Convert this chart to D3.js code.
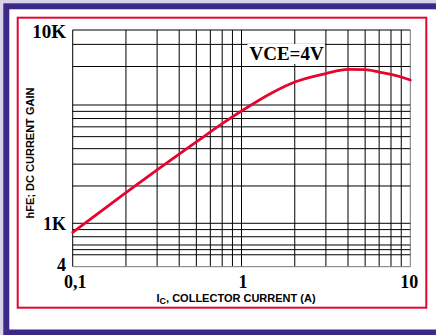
<!DOCTYPE html>
<html>
<head>
<meta charset="utf-8">
<script src="https://cdn.jsdelivr.net/npm/d3@7/dist/d3.min.js"></script>
<style>
  html, body { margin: 0; padding: 0; background: #d9d3ea; }
  svg { display: block; }
</style>
</head>
<body>
<script>
// Collector current (A) and DC current gain hFE at VCE = 4 V
const currentA = [0.1, 0.2, 0.3, 0.5, 0.7, 1, 1.5, 2, 3, 4, 5, 6, 7, 8, 10];
const hfe      = [760, 1770, 2700, 4530, 6360, 8050, 9160, 9295, 9407, 9462, 9459, 9427, 9397, 9361, 9322];

// Grid lines of the log paper (each decade is drawn 1..9, the 10 line shares the 9 line)
const xGrid = [0.1, 0.2, 0.3, 0.4, 0.5, 0.6, 0.7, 0.8, 1, 2, 3, 4, 5, 6, 7, 8, 10];
const yGrid = [400, 500, 550, 600, 700, 800, 1000, 2000, 3000, 4000, 5000, 6000, 7000, 8000, 9000, 9500, 9800, 10000];

// Tick labels
const xTickValues = [0.1, 1, 10];
const xTickLabels = ["0,1", "1", "10"];
const yTickValues = [10000, 1000, 400];
const yTickLabels = ["10K", "1K", "4"];

const curveLabel = "VCE=4V";
const xTitleMain = "I";
const xTitleSub = "C";
const xTitleRest = ", COLLECTOR CURRENT (A)";
const yTitle = "hFE; DC CURRENT GAIN";

const W = 436, H = 335;
const plot = { left: 72.7, right: 410.3, top: 30, bottom: 266.7 };
const pw = plot.right - plot.left, ph = plot.bottom - plot.top;

// Piecewise log scales reproducing the compressed decades of the paper
const xMid = plot.left + pw * 0.5;
const x = d3.scaleLog()
  .domain([0.1, 0.9, 1, 9, 10])
  .range([plot.left, xMid, xMid, plot.right, plot.right]);

const y1K = plot.top + ph * 0.8166;
const y9K = plot.top + ph * 0.3169;
const y = d3.scaleLog()
  .domain([400, 900, 1000, 9000, 10000])
  .range([plot.bottom, y1K, y1K, y9K, plot.top]);

const svg = d3.select("body").append("svg")
  .attr("width", W).attr("height", H);

// Frame: lavender margin, purple band, white card, red border
svg.append("rect").attr("width", W).attr("height", H).attr("fill", "#d9d3ea");
svg.append("rect").attr("x", 3.3).attr("y", 3.3).attr("width", W + 20).attr("height", H + 20).attr("fill", "#3c2a88");
svg.append("rect").attr("x", 9.3).attr("y", 9.3).attr("width", W + 20).attr("height", 329.5 - 9.3).attr("fill", "#ffffff");
svg.append("rect").attr("x", 17.7).attr("y", 17.7).attr("width", 426.3 - 17.7).attr("height", 307.7 - 17.7)
  .attr("fill", "#ffffff").attr("stroke", "#e4062f").attr("stroke-width", 2);

// Grid
const grid = svg.append("g");
grid.selectAll("line.v").data(xGrid).join("line")
  .attr("class", "v")
  .attr("x1", d => x(d)).attr("x2", d => x(d))
  .attr("y1", plot.top).attr("y2", plot.bottom)
  .attr("stroke", (d, i) => i === xGrid.length - 1 ? "#777" : "#000")
  .attr("stroke-width", 1);
grid.selectAll("line.h").data(yGrid).join("line")
  .attr("class", "h")
  .attr("y1", d => y(d)).attr("y2", d => y(d))
  .attr("x1", plot.left).attr("x2", plot.right)
  .attr("stroke", (d, i) => i === 0 ? "#777" : "#000")
  .attr("stroke-width", 1);

// Curve label with a white patch behind it
const lblG = svg.append("g");
const lbl = lblG.append("text")
  .attr("x", 249.5).attr("y", 60)
  .attr("font-family", "'Liberation Serif', 'Times New Roman', serif")
  .attr("font-weight", "bold").attr("font-size", 19)
  .attr("fill", "#000")
  .text(curveLabel);
const bb = lbl.node().getBBox();
lblG.insert("rect", "text")
  .attr("x", bb.x - 2).attr("y", bb.y + 1)
  .attr("width", bb.width + 3).attr("height", bb.height - 1)
  .attr("fill", "#fff");

// hFE curve
const line = d3.line()
  .x((d, i) => x(currentA[i]))
  .y(d => y(d))
  .curve(d3.curveMonotoneX);
svg.append("path")
  .datum(hfe)
  .attr("d", line)
  .attr("fill", "none")
  .attr("stroke", "#e4062f")
  .attr("stroke-width", 2.8)
  .attr("stroke-linecap", "round");

// Tick labels
const serif = "'Liberation Serif', 'Times New Roman', serif";
const xOffsets = [2.6, 1.5, -1];
svg.selectAll("text.xt").data(xTickValues).join("text")
  .attr("class", "xt")
  .attr("x", (d, i) => x(d) + xOffsets[i])
  .attr("y", 288)
  .attr("text-anchor", "middle")
  .attr("font-family", serif).attr("font-weight", "bold").attr("font-size", 18)
  .text((d, i) => xTickLabels[i]);

const yOffsets = [8, 7, 4];
const ySizes = [19, 18, 18];
svg.selectAll("text.yt").data(yTickValues).join("text")
  .attr("class", "yt")
  .attr("x", 66)
  .attr("y", (d, i) => y(d) + yOffsets[i])
  .attr("text-anchor", "end")
  .attr("font-family", serif).attr("font-weight", "bold")
  .attr("font-size", (d, i) => ySizes[i])
  .text((d, i) => yTickLabels[i]);

// Axis titles
const sans = "'Liberation Sans', Arial, Helvetica, sans-serif";
const xt = svg.append("text")
  .attr("x", 156.5).attr("y", 301.7)
  .attr("font-family", sans).attr("font-weight", "bold").attr("font-size", 11)
  .attr("fill", "#000");
xt.append("tspan").text(xTitleMain);
xt.append("tspan").attr("dy", 2.5).attr("font-size", 9).text(xTitleSub);
xt.append("tspan").attr("dy", -2.5).text(xTitleRest);

svg.append("text")
  .attr("transform", "translate(33.5,153) rotate(-90)")
  .attr("text-anchor", "middle")
  .attr("font-family", sans).attr("font-weight", "bold").attr("font-size", 11)
  .attr("fill", "#000")
  .text(yTitle);
</script>
</body>
</html>
